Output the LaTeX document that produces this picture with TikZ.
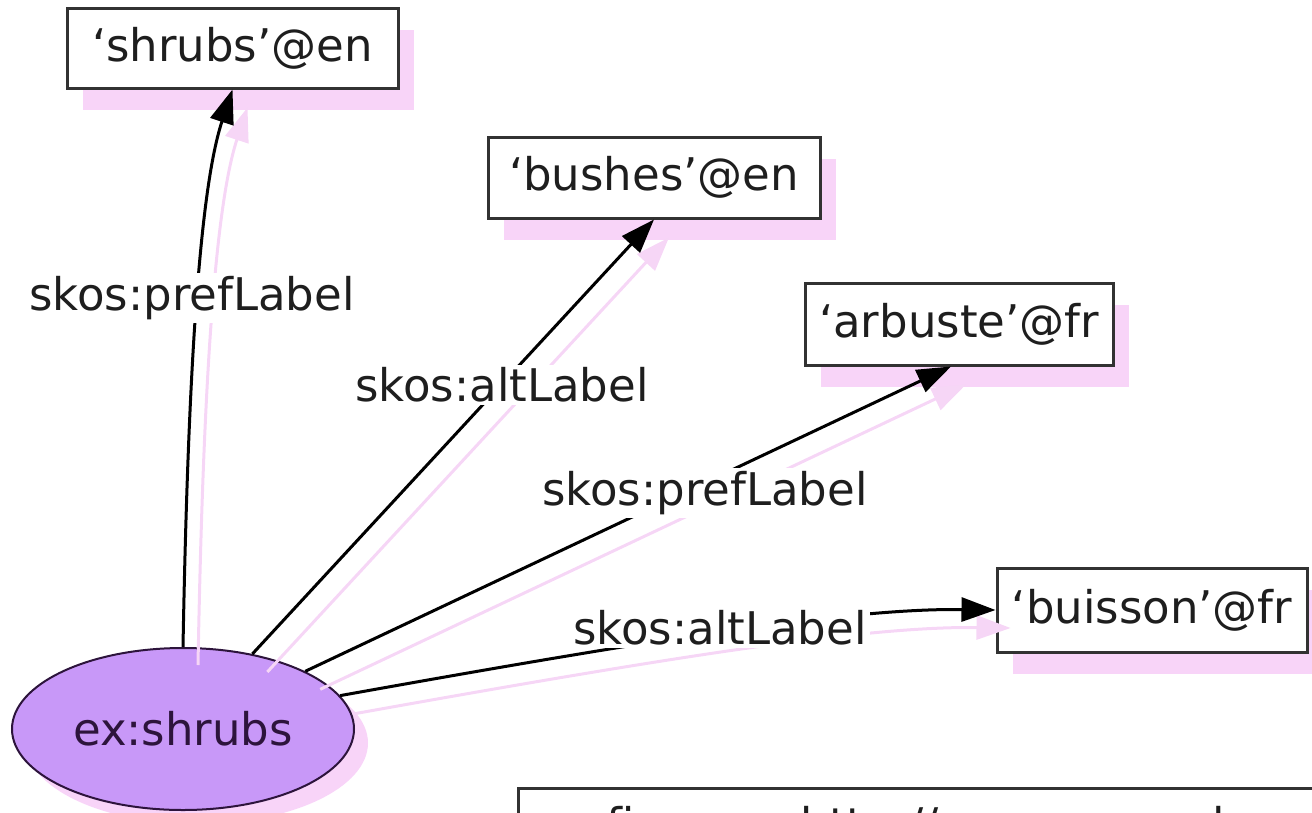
\documentclass[tikz,border=0pt]{standalone}
\usepackage{fontspec}
\setmainfont{DejaVu Sans}
\usetikzlibrary{arrows.meta,shapes.geometric,shadows}
\definecolor{conceptfill}{RGB}{200,152,248}
\definecolor{shadowpink}{RGB}{248,212,248}
\definecolor{edgeshadow}{RGB}{246,214,246}
\definecolor{boxline}{RGB}{50,50,50}
\definecolor{inktext}{RGB}{30,30,30}
\definecolor{concepttext}{RGB}{45,20,60}

\begin{document}
\begin{tikzpicture}[x=1pt,y=-1pt,
  every node/.style={font=\fontsize{45}{54}\selectfont, text=inktext},
  literal/.style={rectangle, draw=boxline, line width=3pt, fill=white, inner sep=0pt,
    drop shadow={fill=shadowpink, opacity=1, shadow xshift=16pt, shadow yshift=-22pt}},
  concept/.style={ellipse, draw=concepttext, line width=2pt, fill=conceptfill, inner sep=0pt,
    text=concepttext, minimum width=342pt, minimum height=162pt,
    drop shadow={fill=shadowpink, opacity=1, shadow xshift=14pt, shadow yshift=-14pt}},
  rel/.style={draw=black, line width=3pt, -{Triangle[length=34pt,width=24pt]}},
  relshadow/.style={draw=edgeshadow, line width=3pt, -{Triangle[length=34pt,width=24pt]},
    transform canvas={xshift=15pt,yshift=-18pt}},
  edgelabel/.style={fill=white, inner sep=3pt},
  prefixframe/.style={rectangle, draw=boxline, line width=3pt, fill=white, inner sep=0pt}
]
\useasboundingbox (0,0) rectangle (1312,812);
\clip (0,0) rectangle (1312,812);

% nodes
\node[literal, minimum width=331pt, minimum height=80pt] (shrubsen) at (232.5,48) {‘shrubs’@en};
\node[literal, minimum width=332pt, minimum height=81pt] (bushesen) at (654,177.5) {‘bushes’@en};
\node[literal, minimum width=308pt, minimum height=82pt] (arbustefr) at (959,324) {‘arbuste’@fr};
\node[literal, minimum width=310pt, minimum height=84pt] (buissonfr) at (1152,610) {‘buisson’@fr};
\node[concept] (ex) at (183,729) {ex:shrubs};

% prefix box along the bottom edge
\node[prefixframe, anchor=north west, minimum width=900pt, minimum height=200pt] (prefixbox) at (517,787) {};
\node[anchor=base west, inner sep=0pt] (prefixtext) at (532,840) {prefix ex: <http://www.example.org/>};

% edge shadows
\draw[relshadow] (ex.north) .. controls (187,430) and (196,200) .. (shrubsen.south);
\draw[relshadow] (ex) -- (bushesen.south);
\draw[relshadow] (ex) -- ([xshift=-8pt]arbustefr.south);
\draw[relshadow] (ex.12) .. controls (650,640) and (850,608) .. (buissonfr.west);

% edges
\draw[rel] (ex.north) .. controls (187,430) and (196,200) .. (shrubsen.south);
\draw[rel] (ex) -- (bushesen.south);
\draw[rel] (ex) -- ([xshift=-8pt]arbustefr.south);
\draw[rel] (ex.12) .. controls (650,640) and (850,608) .. (buissonfr.west);

% edge labels
\node[edgelabel] (lab1) at (192,298) {skos:prefLabel};
\node[edgelabel] (lab2) at (502,385) {skos:altLabel};
\node[edgelabel] (lab3) at (705,493) {skos:prefLabel};
\node[edgelabel] (lab4) at (720,628) {skos:altLabel};
\end{tikzpicture}
\end{document}
